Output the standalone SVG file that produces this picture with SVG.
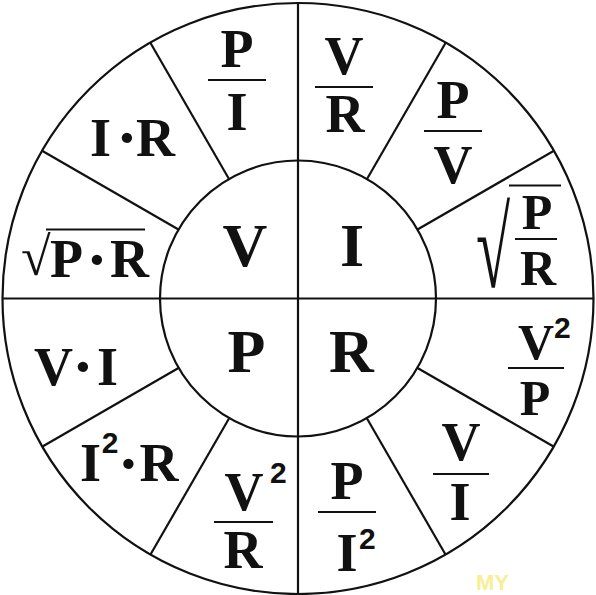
<svg xmlns="http://www.w3.org/2000/svg" width="596" height="595" viewBox="0 0 596 595">
<style>
.bg{fill:#ffffff}
.ln{stroke:#111;stroke-width:2.2;fill:none}
.bar{stroke:#111;stroke-width:2.2}
.t{font-family:"Liberation Serif","Times New Roman",serif;font-weight:bold;font-size:54px;fill:#111;text-anchor:middle}
.big{font-size:62px}
.sm{font-size:50px}
.dot{font-size:64px}
.sup{font-family:"Liberation Sans",Arial,sans-serif;font-weight:bold;font-size:30px;fill:#111}
.rad{font-family:"Liberation Serif","Times New Roman",serif;font-weight:normal;font-size:54px;fill:#111}
.wm{font-family:"Liberation Sans",Arial,sans-serif;font-weight:bold;font-size:22px;fill:#f2e450;opacity:0.6}
</style>
<rect class="bg" x="0" y="0" width="596" height="595"/>
<g id="connectors">
<circle class="ln" cx="298" cy="298.5" r="295.5"/>
<circle class="ln" cx="298" cy="298.5" r="138"/>
<line class="ln" x1="298" y1="3" x2="298" y2="594"/>
<line class="ln" x1="2.5" y1="298.5" x2="593.5" y2="298.5"/>
<line class="ln" x1="417.5" y1="229.5" x2="553.5" y2="151"/>
<line class="ln" x1="367" y1="179" x2="445.5" y2="43"/>
<line class="ln" x1="229" y1="179" x2="150.5" y2="43"/>
<line class="ln" x1="178.5" y1="229.5" x2="42.5" y2="151"/>
<line class="ln" x1="178.5" y1="368" x2="42.5" y2="446.5"/>
<line class="ln" x1="229" y1="418.5" x2="150.5" y2="554.5"/>
<line class="ln" x1="367" y1="418.5" x2="445.5" y2="554.5"/>
<line class="ln" x1="417.5" y1="368" x2="553.5" y2="446.5"/>
</g>
<g id="node-V"><text class="t big" x="245" y="266">V</text></g>
<g id="node-I"><text class="t big" x="352" y="266">I</text></g>
<g id="node-P"><text class="t big" x="246.5" y="372">P</text></g>
<g id="node-R"><text class="t big" x="351.5" y="372">R</text></g>
<g id="cell-P-over-I">
<text class="t" x="237" y="67">P</text>
<line class="bar" x1="208" y1="80" x2="266" y2="80"/>
<text class="t" x="237" y="130">I</text>
</g>
<g id="cell-V-over-R">
<text class="t" x="344" y="74">V</text>
<line class="bar" x1="315" y1="87" x2="373" y2="87"/>
<text class="t" x="345" y="132">R</text>
</g>
<g id="cell-P-over-V">
<text class="t" x="453" y="118">P</text>
<line class="bar" x1="424" y1="131" x2="482" y2="131"/>
<text class="t" x="453" y="183">V</text>
</g>
<g id="cell-sqrt-P-over-R">
<text class="rad" transform="translate(476 287) scale(1.15 2.1)">√</text>
<line class="bar" x1="509" y1="185.5" x2="561" y2="185.5"/>
<text class="t sm" x="537" y="229">P</text>
<line class="bar" x1="515" y1="239" x2="557" y2="239"/>
<text class="t sm" x="538" y="285">R</text>
</g>
<g id="cell-V2-over-P">
<text class="t sm" x="536" y="359">V</text>
<text class="sup" x="554" y="338">2</text>
<line class="bar" x1="508" y1="368" x2="564" y2="368"/>
<text class="t sm" x="535" y="415">P</text>
</g>
<g id="cell-V-over-I">
<text class="t" x="461" y="460">V</text>
<line class="bar" x1="433" y1="474" x2="489" y2="474"/>
<text class="t" x="460" y="520">I</text>
</g>
<g id="cell-P-over-I2">
<text class="t" x="347" y="499">P</text>
<line class="bar" x1="318" y1="512" x2="376" y2="512"/>
<text class="t" x="347" y="571">I</text>
<text class="sup" x="359" y="549">2</text>
</g>
<g id="cell-V2-over-R">
<text class="t" x="244" y="510">V</text>
<text class="sup" x="270" y="483">2</text>
<line class="bar" x1="214" y1="522" x2="273" y2="522"/>
<text class="t" x="243" y="568">R</text>
</g>
<g id="cell-I2R">
<text class="t" y="481"><tspan x="90.5">I</tspan><tspan class="sup" x="110" y="453">2</tspan><tspan class="dot" x="128.5" y="484.5">·</tspan><tspan x="159" y="481">R</tspan></text>
</g>
<g id="cell-VI">
<text class="t" y="385"><tspan x="53.5">V</tspan><tspan class="dot" x="83" y="387.5">·</tspan><tspan x="107.5" y="385">I</tspan></text>
</g>
<g id="cell-sqrt-PR">
<text class="rad" x="21" y="275">√</text>
<line class="bar" x1="46" y1="229.5" x2="145" y2="229.5"/>
<text class="t" y="277"><tspan x="66.5">P</tspan><tspan class="dot" x="97" y="280.5">·</tspan><tspan x="129.5" y="277">R</tspan></text>
</g>
<g id="cell-IR">
<text class="t" y="156"><tspan x="100.5">I</tspan><tspan class="dot" x="127" y="158.5">·</tspan><tspan x="155.5" y="156">R</tspan></text>
</g>
<text class="wm" x="476" y="590">MY</text>
</svg>
